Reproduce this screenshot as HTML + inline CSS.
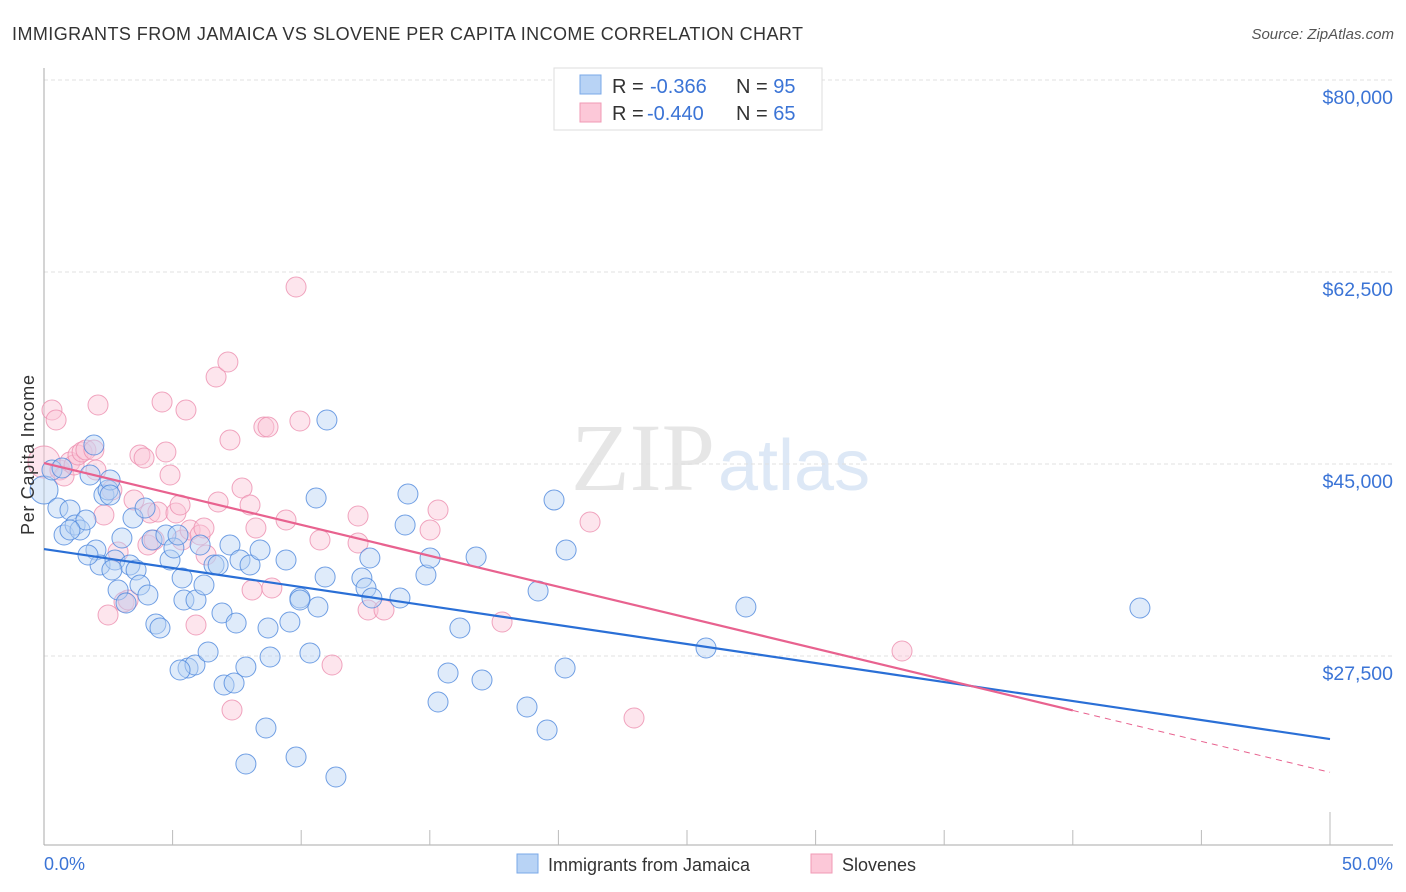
<!DOCTYPE html>
<html><head><meta charset="utf-8"><style>
body{margin:0;background:#fff;font-family:"Liberation Sans",sans-serif;}
svg{display:block}
</style></head><body>
<svg id="chart" width="1406" height="892">
<text x="12" y="40" font-size="18" fill="#333" textLength="791">IMMIGRANTS FROM JAMAICA VS SLOVENE PER CAPITA INCOME CORRELATION CHART</text>
<text x="1394" y="39" font-size="15" fill="#555" text-anchor="end" font-style="italic">Source: ZipAtlas.com</text>
<text x="715" y="490" font-size="96" fill="#e6e6e6" text-anchor="end" font-family="Liberation Serif">ZIP</text>
<text x="718" y="490" font-size="72" fill="#dde8f6">atlas</text>
<g id="grid"></g><g id="axes"></g><g id="pts"></g><g id="lines"></g>
<text transform="translate(34,455) rotate(-90)" font-size="18" fill="#333" text-anchor="middle" textLength="160">Per Capita Income</text>
<text x="44" y="870" font-size="18" fill="#3b74d6">0.0%</text>
<text x="1393" y="870" font-size="18" fill="#3b74d6" text-anchor="end">50.0%</text>
<g>
<rect x="554" y="68" width="268" height="62" fill="#fff" stroke="#ddd"/>
<rect x="580" y="75" width="21" height="19" fill="#b8d3f5" stroke="#7aa8e8"/>
<rect x="580" y="103" width="21" height="19" fill="#fcc8d8" stroke="#f09ab5"/>
<text x="612" y="93" font-size="20" fill="#333">R = <tspan x="650" fill="#3b74d6">-0.366</tspan></text>
<text x="736" y="93" font-size="20" fill="#333">N = <tspan fill="#3b74d6">95</tspan></text>
<text x="612" y="120" font-size="20" fill="#333">R = <tspan x="647" fill="#3b74d6">-0.440</tspan></text>
<text x="736" y="120" font-size="20" fill="#333">N = <tspan fill="#3b74d6">65</tspan></text>
</g>
<g>
<rect x="517" y="854" width="21" height="19" fill="#b8d3f5" stroke="#7aa8e8"/>
<text x="548" y="871" font-size="18" fill="#333">Immigrants from Jamaica</text>
<rect x="811" y="854" width="21" height="19" fill="#fcc8d8" stroke="#f09ab5"/>
<text x="842" y="871" font-size="18" fill="#333">Slovenes</text>
</g>
</svg>
<script>
const yTicks=[80000,62500,45000,27500];
const yTickLabels=["$80,000","$62,500","$45,000","$27,500"];
const blueTrend=[37250,19930];
const pinkTrend=[45090,16900];
const pinkSolidEnd=40;
const bluePx=[[44,490],[52,470],[58,508],[64,535],[70,510],[75,525],[80,530],[86,520],[90,475],[94,445],[96,550],[100,565],[104,495],[108,490],[110,480],[115,560],[118,590],[122,538],[126,603],[130,565],[133,518],[136,570],[140,585],[145,508],[148,595],[152,540],[156,624],[160,628],[166,535],[170,560],[174,548],[178,535],[182,578],[184,600],[188,668],[195,665],[196,600],[200,545],[204,585],[208,652],[214,565],[218,565],[222,613],[224,685],[230,545],[234,683],[236,623],[240,560],[246,667],[250,565],[260,550],[266,728],[268,628],[270,657],[246,764],[286,560],[290,622],[296,757],[300,598],[310,653],[316,498],[318,607],[325,577],[327,420],[336,777],[362,578],[366,588],[370,558],[372,598],[400,598],[405,525],[408,494],[426,575],[430,558],[438,702],[448,673],[460,628],[476,557],[482,680],[527,707],[538,591],[547,730],[554,500],[565,668],[566,550],[706,648],[746,607],[1140,608],[110,495],[62,468],[70,530],[112,570],[180,670],[300,600],[88,555]];
const pinkPx=[[44,462],[52,410],[56,420],[60,470],[64,476],[70,462],[74,465],[78,455],[82,452],[86,450],[94,450],[98,405],[104,515],[108,615],[112,490],[118,552],[124,602],[128,600],[134,500],[140,455],[144,458],[148,545],[150,513],[154,540],[158,512],[162,402],[166,452],[170,475],[176,513],[180,505],[182,540],[186,410],[190,530],[196,625],[200,535],[204,528],[206,555],[216,377],[218,502],[228,362],[230,440],[232,710],[242,488],[250,505],[252,590],[256,528],[264,427],[268,427],[272,588],[286,520],[296,287],[300,421],[320,540],[332,665],[358,516],[358,543],[368,610],[384,610],[430,530],[438,510],[502,622],[590,522],[634,718],[902,651],[96,470]];
const blueX=bluePx.map(p=>+((p[0]-44)/1286*50).toFixed(2));
const blueY=bluePx.map(p=>Math.round(80000-(p[1]-80)*17500/192));
const pinkX=pinkPx.map(p=>+((p[0]-44)/1286*50).toFixed(2));
const pinkY=pinkPx.map(p=>Math.round(80000-(p[1]-80)*17500/192));
const NS="http://www.w3.org/2000/svg";
const xs=v=>44+v/50*1286, ys=v=>80+(80000-v)*192/17500;
function mk(t,a,parent){const e=document.createElementNS(NS,t);for(const k in a)e.setAttribute(k,a[k]);document.getElementById(parent).appendChild(e);return e;}
yTicks.forEach((t,i)=>{
 const g=mk('line',{x1:44,x2:1393,y1:ys(t),y2:ys(t),stroke:'#e0e0e0','stroke-dasharray':'4,3'},'grid');
 
 
 const l=mk('text',{x:1393,y:ys(t)+24,'font-size':19.5,fill:'#3b74d6','text-anchor':'end'},'grid');
 l.textContent=yTickLabels[i];
 
 
});
const ax=mk('line',{x1:44,x2:44,y1:68,y2:845,stroke:'#aaa'},'axes');


const bx=mk('line',{x1:44,x2:1393,y1:845,y2:845,stroke:'#aaa'},'axes');


for(let i=1;i<=10;i++){const t=mk('line',{x1:xs(i*5),x2:xs(i*5),y1:i==10?812:830,y2:845,stroke:'#bbb'},'axes');
 
 }
function dots(X,Y,fill,stroke,name){X.forEach((x,i)=>{const c=mk('circle',{cx:xs(x),cy:ys(Y[i]),r:i==0?(name=='pink'?16:14):10,fill:fill,'fill-opacity':0.45,stroke:stroke,'stroke-opacity':0.8,'stroke-width':1},'pts');
 
 });}
dots(pinkX,pinkY,'#fbc6d6','#ec8eaf','pink');
dots(blueX,blueY,'#b8d3f5','#4f88dd','blue');
const bl=mk('line',{x1:xs(0),y1:ys(blueTrend[0]),x2:xs(50),y2:ys(blueTrend[1]),stroke:'#2a6fd6','stroke-width':2.2},'lines');


const pm=pinkTrend[0]+(pinkTrend[1]-pinkTrend[0])*pinkSolidEnd/50;
const pl=mk('line',{x1:xs(0),y1:ys(pinkTrend[0]),x2:xs(pinkSolidEnd),y2:ys(pm),stroke:'#e8628f','stroke-width':2.2},'lines');


const pd=mk('line',{x1:xs(pinkSolidEnd),y1:ys(pm),x2:xs(50),y2:ys(pinkTrend[1]),stroke:'#e8628f','stroke-width':1,'stroke-dasharray':'6,5'},'lines');


</script>
</body></html>
